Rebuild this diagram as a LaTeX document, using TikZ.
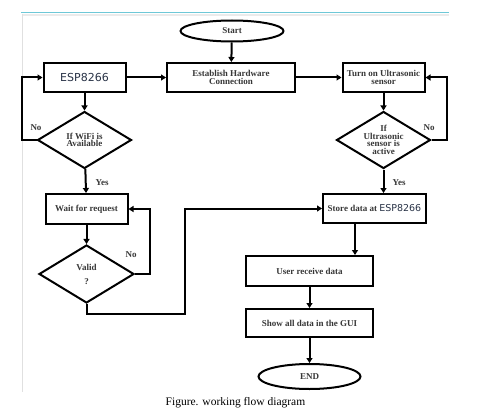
\documentclass[tikz,border=0pt]{standalone}
\usepackage{fontspec}
\setmainfont{Liberation Serif}
\newfontfamily\espfont{DejaVu Sans}
\usetikzlibrary{shapes.geometric,arrows.meta}
\definecolor{framecyan}{RGB}{110,200,215}
\definecolor{boxtext}{RGB}{55,55,55}
\definecolor{esptext}{RGB}{40,50,70}
\tikzset{
	% Node styles for the flow chart: process box, decision and terminal
	block node/.style={rectangle,draw,line width=2pt,minimum height=29pt,inner sep=1pt,align=center,font=\fontsize{9}{8}\selectfont\bfseries,text=boxtext},
	decision node/.style={diamond,draw,line width=2pt,inner sep=0pt,minimum width=94pt,minimum height=57pt},
	decision text/.style={align=center,font=\fontsize{9}{7.5}\selectfont\bfseries,text=boxtext},
	terminal node/.style={ellipse,draw,line width=2pt,inner sep=0pt,font=\fontsize{9}{9}\selectfont\bfseries,text=boxtext},
	flow/.style={line width=2pt,-{Triangle[length=5pt,width=6pt]}},
	branch label/.style={font=\fontsize{9}{9}\selectfont\bfseries,text=boxtext}
}
\begin{document}
\begin{tikzpicture}[x=1pt,y=-1pt]
	\useasboundingbox (0,0) rectangle (495,417);
	% frame of the figure
	\draw[framecyan,line width=1.2pt] (21,12.5) -- (449,12.5);
	\draw[black!8,line width=1.5pt] (22,15) -- (449,15);
	\draw[black!12,line width=1pt] (22,14) -- (22,392);

	% left column
	\node(start)[terminal node,minimum width=103pt,minimum height=21pt] at (232,31){Start};
	\node(esp)[block node,minimum width=82pt,font=\espfont\fontsize{11}{11}\selectfont,text=esptext] at (84.5,77.5){ESP8266};
	\node(wifi)[decision node,label={[decision text]center:If WiFi is\\Available}] at (84.5,140){};
	\node(wait)[block node,minimum width=82pt,minimum height=30pt] at (86.5,209){Wait for request};
	\node(valid)[decision node,minimum width=95pt,minimum height=58pt,label={[decision text,font=\fontsize{9}{14}\selectfont\bfseries]center:Valid\\?}] at (86.5,274){};

	% top row and right column
	\node(hw)[block node,minimum width=128pt] at (231,77.5){Establish Hardware\\Connection};
	\node(sonic)[block node,minimum width=82pt] at (383.5,77.5){Turn on Ultrasonic\\sensor};
	\node(active)[decision node,label={[decision text]center:If\\Ultrasonic\\sensor is\\active}] at (383.5,140){};
	\node(store)[block node,minimum width=103pt] at (374.5,208.5){Store data at {\espfont\mdseries\fontsize{9.5}{9.5}\selectfont\color{esptext}ESP8266}};
	\node(user)[block node,minimum width=127pt,minimum height=30pt] at (309.5,271){User receive data};
	\node(gui)[block node,minimum width=127pt,minimum height=28pt] at (309.5,323){Show all data in the GUI};
	\node(end)[terminal node,minimum width=102pt,minimum height=25pt] at (309.5,376.5){END};

	% connectors
	\draw[flow] (start) -- (hw);
	\draw[flow] (esp) -- (hw);
	\draw[flow] (hw) -- (sonic);
	\draw[flow] (esp) -- (wifi);
	\draw[flow] (wifi) -- (wait);
	\draw[flow] (wait) -- (valid);
	\draw[flow] (sonic) -- (active);
	\draw[flow] (active.south) -- (active.south |- store.north);
	\draw[flow] ([xshift=-19pt]user.north east |- store.south) -- ([xshift=-19pt]user.north east);
	\draw[flow] (user) -- (gui);
	\draw[flow] (gui) -- (end);
	% loops back
	\draw[flow] (wifi.west) -- ++(-15,0) |- (esp.west);
	\draw[flow] (active.east) -- ++(15,0) |- (sonic.east);
	\draw[flow] (valid.east) -- ++(15,0) |- (wait.east);
	\draw[flow] (valid.south) -- ++(0,10) -- ++(98.5,0) |- (store.west);

	% branch labels
	\node(wifi-no)[branch label] at (36,128){No};
	\node(wifi-yes)[branch label] at (102,183){Yes};
	\node(active-no)[branch label] at (429,128){No};
	\node(active-yes)[branch label] at (399,183){Yes};
	\node(valid-no)[branch label] at (131,255){No};

	% caption
	\node(caption)[font=\fontsize{11.5}{12}\selectfont] at (235.5,403){Figure. working flow diagram};
\end{tikzpicture}
\end{document}
